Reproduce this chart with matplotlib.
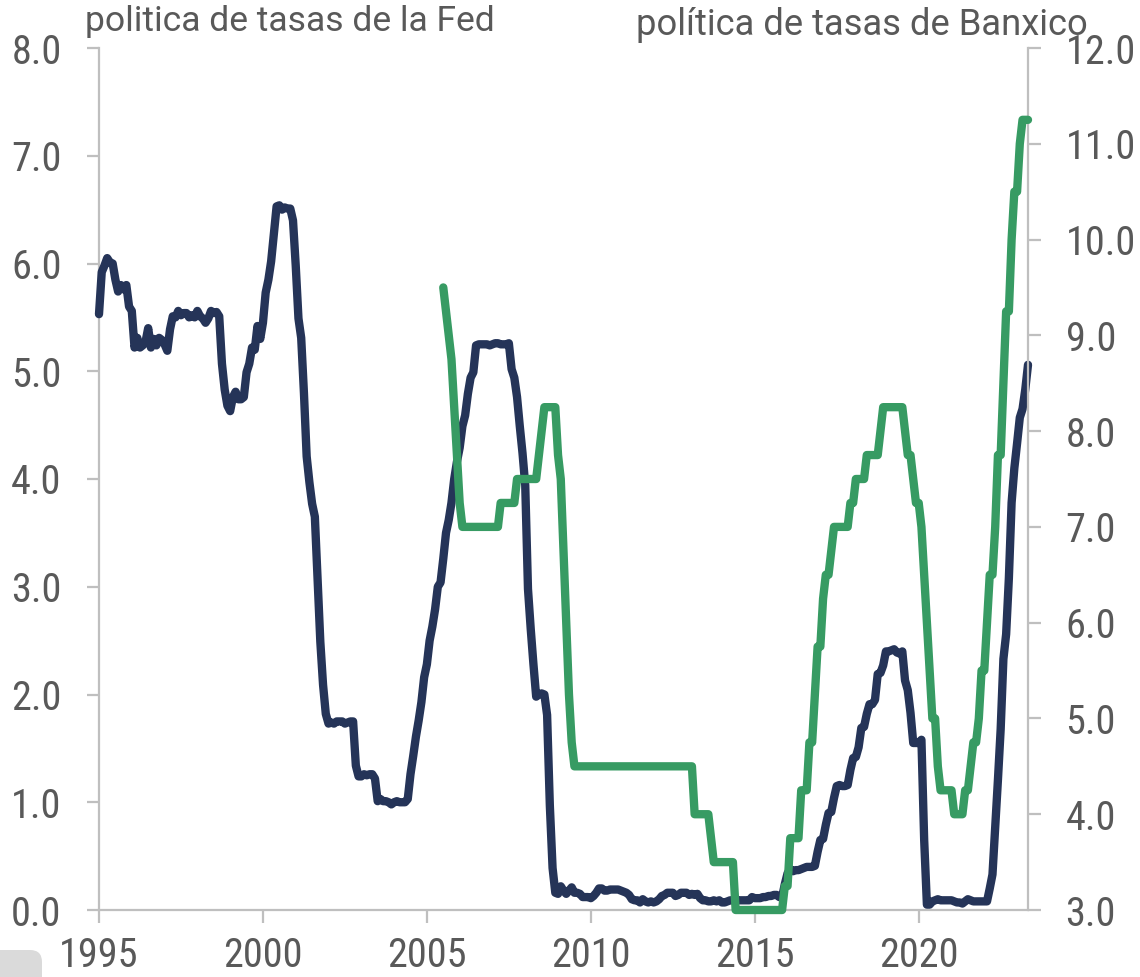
import matplotlib
matplotlib.use("Agg")
import matplotlib.pyplot as plt
from matplotlib import font_manager as fm
from matplotlib.patches import FancyBboxPatch
import numpy as np

# ---------------- data ----------------
# Fed funds effective rate, monthly, Jan 1995 - May 2023 (%)
fed_rate = [
    5.53, 5.92, 5.98, 6.05, 6.01, 6.00, 5.85, 5.74, 5.80, 5.76, 5.80, 5.60,  # 1995
    5.56, 5.22, 5.31, 5.22, 5.24, 5.27, 5.40, 5.22, 5.30, 5.24, 5.31, 5.29,  # 1996
    5.25, 5.19, 5.39, 5.51, 5.50, 5.56, 5.52, 5.54, 5.54, 5.50, 5.52, 5.50,  # 1997
    5.56, 5.51, 5.49, 5.45, 5.49, 5.56, 5.54, 5.55, 5.51, 5.07, 4.83, 4.68,  # 1998
    4.63, 4.76, 4.81, 4.74, 4.74, 4.76, 4.99, 5.07, 5.22, 5.20, 5.42, 5.30,  # 1999
    5.45, 5.73, 5.85, 6.02, 6.27, 6.53, 6.54, 6.50, 6.52, 6.51, 6.51, 6.40,  # 2000
    5.98, 5.49, 5.31, 4.80, 4.21, 3.97, 3.77, 3.65, 3.07, 2.49, 2.09, 1.82,  # 2001
    1.73, 1.74, 1.73, 1.75, 1.75, 1.75, 1.73, 1.74, 1.75, 1.75, 1.34, 1.24,  # 2002
    1.24, 1.26, 1.25, 1.26, 1.26, 1.22, 1.01, 1.03, 1.01, 1.01, 1.00, 0.98,  # 2003
    1.00, 1.01, 1.00, 1.00, 1.00, 1.03, 1.26, 1.43, 1.61, 1.76, 1.93, 2.16,  # 2004
    2.28, 2.50, 2.63, 2.79, 3.00, 3.04, 3.26, 3.50, 3.62, 3.78, 4.00, 4.16,  # 2005
    4.29, 4.49, 4.59, 4.79, 4.94, 4.99, 5.24, 5.25, 5.25, 5.25, 5.25, 5.24,  # 2006
    5.25, 5.26, 5.26, 5.25, 5.25, 5.25, 5.26, 5.02, 4.94, 4.76, 4.49, 4.24,  # 2007
    3.94, 2.98, 2.61, 2.28, 1.98, 2.00, 2.01, 2.00, 1.81, 0.97, 0.39, 0.16,  # 2008
    0.15, 0.22, 0.18, 0.15, 0.18, 0.21, 0.16, 0.16, 0.15, 0.12, 0.12, 0.12,  # 2009
    0.11, 0.13, 0.16, 0.20, 0.20, 0.18, 0.18, 0.19, 0.19, 0.19, 0.19, 0.18,  # 2010
    0.17, 0.16, 0.14, 0.10, 0.09, 0.09, 0.07, 0.10, 0.08, 0.07, 0.08, 0.07,  # 2011
    0.08, 0.10, 0.13, 0.14, 0.16, 0.16, 0.16, 0.13, 0.14, 0.16, 0.16, 0.16,  # 2012
    0.14, 0.15, 0.14, 0.15, 0.11, 0.09, 0.09, 0.08, 0.08, 0.09, 0.08, 0.09,  # 2013
    0.07, 0.07, 0.08, 0.09, 0.09, 0.10, 0.09, 0.09, 0.09, 0.09, 0.09, 0.12,  # 2014
    0.11, 0.11, 0.11, 0.12, 0.12, 0.13, 0.13, 0.14, 0.14, 0.12, 0.12, 0.24,  # 2015
    0.34, 0.38, 0.36, 0.37, 0.37, 0.38, 0.39, 0.40, 0.40, 0.40, 0.41, 0.54,  # 2016
    0.65, 0.66, 0.79, 0.90, 0.91, 1.04, 1.15, 1.16, 1.15, 1.15, 1.16, 1.30,  # 2017
    1.41, 1.42, 1.51, 1.69, 1.70, 1.82, 1.91, 1.91, 1.95, 2.19, 2.20, 2.27,  # 2018
    2.40, 2.40, 2.41, 2.42, 2.39, 2.38, 2.40, 2.13, 2.04, 1.83, 1.55, 1.55,  # 2019
    1.55, 1.58, 0.65, 0.05, 0.05, 0.08, 0.09, 0.10, 0.09, 0.09, 0.09, 0.09,  # 2020
    0.09, 0.08, 0.07, 0.07, 0.06, 0.08, 0.10, 0.09, 0.08, 0.08, 0.08, 0.08,  # 2021
    0.08, 0.08, 0.20, 0.33, 0.77, 1.21, 1.68, 2.33, 2.56, 3.08, 3.78, 4.10,  # 2022
    4.33, 4.57, 4.65, 4.83, 5.06,                                            # 2023
]
fed_start_year = 1995

# Banxico policy rate, monthly, Jul 2005 - May 2023 (%)
banxico_rate = [
    9.50, 9.25, 9.00, 8.75, 8.25, 7.75,                                      # 2005 (Jul-Dec)
    7.25, 7.00, 7.00, 7.00, 7.00, 7.00, 7.00, 7.00, 7.00, 7.00, 7.00, 7.00,  # 2006
    7.00, 7.00, 7.00, 7.25, 7.25, 7.25, 7.25, 7.25, 7.25, 7.50, 7.50, 7.50,  # 2007
    7.50, 7.50, 7.50, 7.50, 7.50, 7.75, 8.00, 8.25, 8.25, 8.25, 8.25, 8.25,  # 2008
    7.75, 7.50, 6.75, 6.00, 5.25, 4.75, 4.50, 4.50, 4.50, 4.50, 4.50, 4.50,  # 2009
    4.50, 4.50, 4.50, 4.50, 4.50, 4.50, 4.50, 4.50, 4.50, 4.50, 4.50, 4.50,  # 2010
    4.50, 4.50, 4.50, 4.50, 4.50, 4.50, 4.50, 4.50, 4.50, 4.50, 4.50, 4.50,  # 2011
    4.50, 4.50, 4.50, 4.50, 4.50, 4.50, 4.50, 4.50, 4.50, 4.50, 4.50, 4.50,  # 2012
    4.50, 4.50, 4.00, 4.00, 4.00, 4.00, 4.00, 4.00, 3.75, 3.50, 3.50, 3.50,  # 2013
    3.50, 3.50, 3.50, 3.50, 3.50, 3.00, 3.00, 3.00, 3.00, 3.00, 3.00, 3.00,  # 2014
    3.00, 3.00, 3.00, 3.00, 3.00, 3.00, 3.00, 3.00, 3.00, 3.00, 3.00, 3.25,  # 2015
    3.25, 3.75, 3.75, 3.75, 3.75, 4.25, 4.25, 4.25, 4.75, 4.75, 5.25, 5.75,  # 2016
    5.75, 6.25, 6.50, 6.50, 6.75, 7.00, 7.00, 7.00, 7.00, 7.00, 7.00, 7.25,  # 2017
    7.25, 7.50, 7.50, 7.50, 7.50, 7.75, 7.75, 7.75, 7.75, 7.75, 8.00, 8.25,  # 2018
    8.25, 8.25, 8.25, 8.25, 8.25, 8.25, 8.25, 8.00, 7.75, 7.75, 7.50, 7.25,  # 2019
    7.25, 7.00, 6.50, 6.00, 5.50, 5.00, 5.00, 4.50, 4.25, 4.25, 4.25, 4.25,  # 2020
    4.25, 4.00, 4.00, 4.00, 4.00, 4.25, 4.25, 4.50, 4.75, 4.75, 5.00, 5.50,  # 2021
    5.50, 6.00, 6.50, 6.50, 7.00, 7.75, 7.75, 8.50, 9.25, 9.25, 10.00, 10.50,  # 2022
    10.50, 11.00, 11.25, 11.25, 11.25,                                       # 2023
]
banxico_start_year = 2005.5   # July 2005

x_tick_years = [1995, 2000, 2005, 2010, 2015, 2020]
left_ticks = [0, 1, 2, 3, 4, 5, 6, 7, 8]
right_ticks = [3, 4, 5, 6, 7, 8, 9, 10, 11, 12]
title_left = "politica de tasas de la Fed"
title_right = "política de tasas de Banxico"

# ---------------- style ----------------
NAVY = "#253458"
GREEN = "#379B63"
AXIS_GRAY = "#BFBFBF"
TEXT_GRAY = "#595959"

# look for a narrow / condensed sans face for the tick labels
tick_prop = None
cands = []
for f in fm.findSystemFonts():
    base = f.split("/")[-1].lower()
    if base.endswith((".ttf", ".otf")) and ("narrow" in base or "condensed" in base) \
            and "bold" not in base and "italic" not in base and "oblique" not in base \
            and "mono" not in base and "serif" not in base and "light" not in base \
            and "semi" not in base and "extra" not in base and "black" not in base \
            and "medium" not in base and "thin" not in base:
        cands.append(f)
pref = sorted(cands, key=lambda p: (0 if "liberationsansnarrow" in p.lower() else
                                    1 if "roboto" in p.lower() else
                                    2 if "noto" in p.lower() else 3, len(p)))
if pref:
    tick_prop = fm.FontProperties(fname=pref[0])
    tick_size = 29
else:
    tick_prop = fm.FontProperties(family=["Roboto", "DejaVu Sans"])
    tick_size = 24
title_font = ["Roboto", "DejaVu Sans"]

W, H = 1140, 977
fig = plt.figure(figsize=(W / 100, H / 100), dpi=100)
left_px, right_px, bottom_px, top_px = 99, 1028, 910, 48
ax = fig.add_axes([left_px / W, 1 - bottom_px / H, (right_px - left_px) / W, (bottom_px - top_px) / H])
ax2 = ax.twinx()

x_fed = fed_start_year + np.arange(len(fed_rate)) / 12.0
x_bx = banxico_start_year + np.arange(len(banxico_rate)) / 12.0

ax.plot(x_fed, fed_rate, color=NAVY, lw=6.0, solid_joinstyle="round",
        solid_capstyle="round", clip_on=False, zorder=3)
ax2.plot(x_bx, banxico_rate, color=GREEN, lw=6.0, solid_joinstyle="round",
         solid_capstyle="round", clip_on=False, zorder=3)

ax.set_xlim(fed_start_year, x_fed[-1])
ax.set_ylim(0, 8)
ax2.set_ylim(3, 12)
ax.set_xticks(x_tick_years)
ax.set_xticklabels([str(y) for y in x_tick_years])
ax.set_yticks(left_ticks)
ax.set_yticklabels([f"{v:.1f}" for v in left_ticks])
ax2.set_yticks(right_ticks)
ax2.set_yticklabels([f"{v:.1f}" for v in right_ticks])

for a in (ax, ax2):
    for s in a.spines.values():
        s.set_color(AXIS_GRAY)
        s.set_linewidth(1.6)
    a.spines["top"].set_visible(False)
    a.patch.set_visible(False)
ax2.spines["left"].set_visible(False)
ax2.spines["bottom"].set_visible(False)
ax.spines["right"].set_visible(False)

ax.tick_params(axis="x", direction="out", length=9, width=1.6, color=AXIS_GRAY,
               labelcolor=TEXT_GRAY, pad=10)
ax.tick_params(axis="y", direction="out", length=9, width=1.6, color=AXIS_GRAY,
               labelcolor=TEXT_GRAY, pad=18)
ax2.tick_params(axis="y", direction="out", length=9, width=1.6, color=AXIS_GRAY,
                labelcolor=TEXT_GRAY, pad=18)
for lab in ax.get_xticklabels() + ax.get_yticklabels() + ax2.get_yticklabels():
    lab.set_fontproperties(tick_prop)
    lab.set_fontsize(tick_size)

# titles
t1 = fig.text(85 / W, 1 - 31 / H, title_left, family=title_font, fontsize=22,
              color=TEXT_GRAY, ha="left", va="baseline")
t2 = fig.text(636 / W, 1 - 35 / H, title_right, family=title_font, fontsize=22,
              color=TEXT_GRAY, ha="left", va="baseline")
fig.canvas.draw()
r = fig.canvas.get_renderer()
for t, target in ((t1, 410), (t2, 452)):
    w = t.get_window_extent(r).width
    t.set_fontsize(t.get_fontsize() * target / w)

# light gray artifact at bottom-left corner
fig.patches.append(FancyBboxPatch((-30, -30), 72, 57, boxstyle="round,pad=0,rounding_size=12",
                                  transform=None, facecolor="#DADADA", edgecolor="none",
                                  figure=fig))

fig.savefig("out.png", dpi=100)
